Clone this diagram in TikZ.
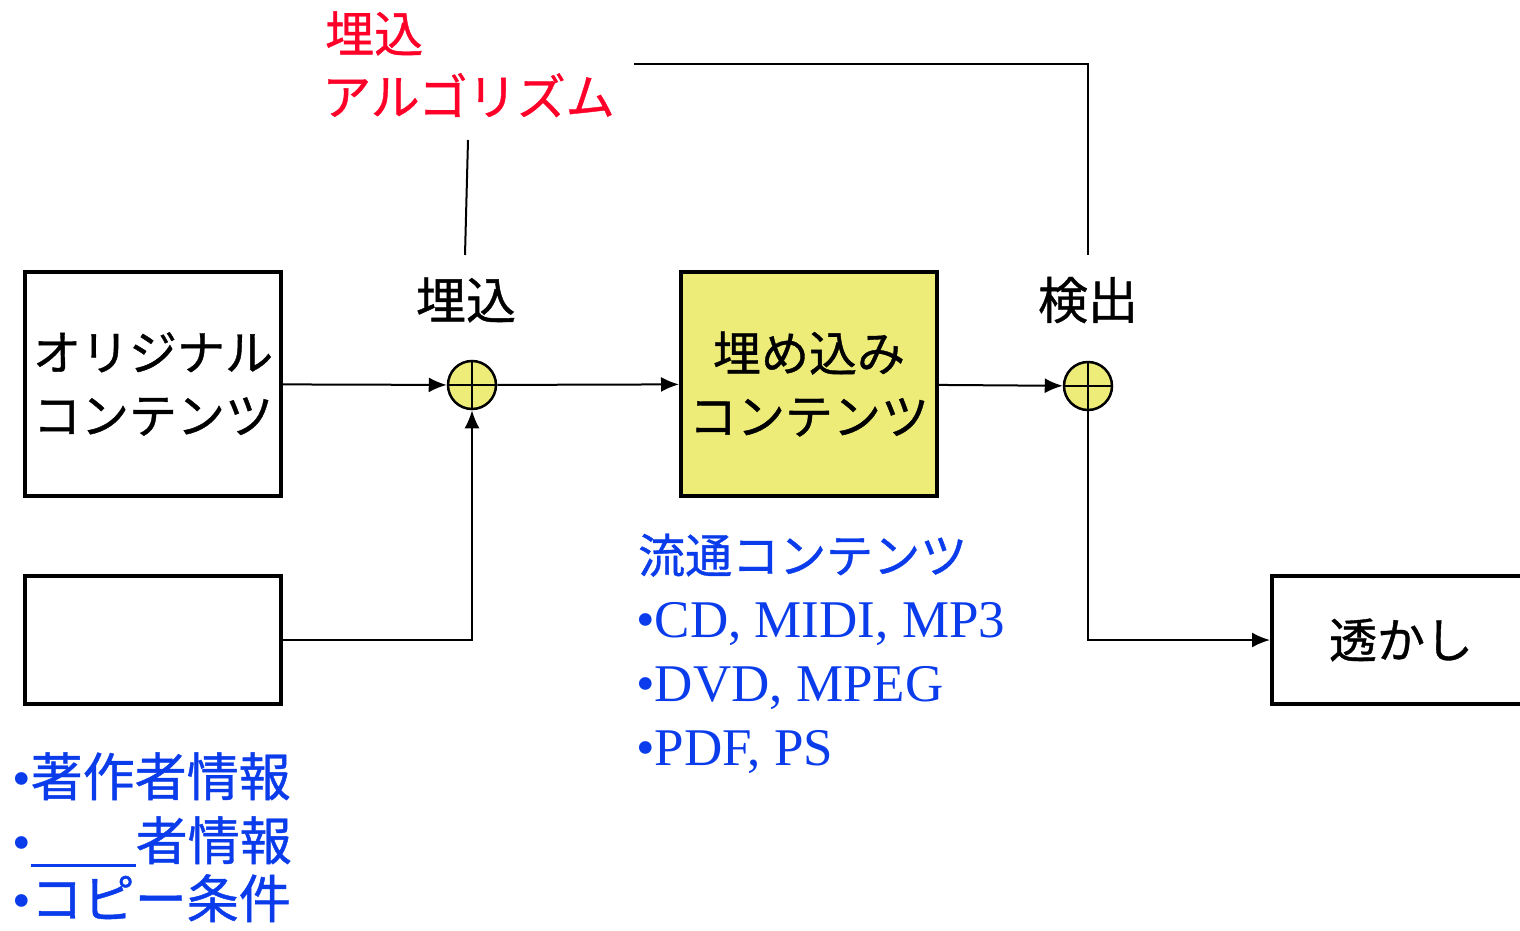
\documentclass[tikz,border=0pt]{standalone}
\usepackage{fontspec}
\setmainfont{Liberation Serif}
\newfontfamily\jp[FakeBold=0.8]{Noto Sans CJK JP}
\usetikzlibrary{arrows.meta}
\definecolor{txtblue}{RGB}{10,60,235}
\definecolor{txtred}{RGB}{255,0,40}
\definecolor{boxyellow}{RGB}{238,236,120}
\tikzset{
  box/.style={draw,line width=4pt,minimum width=256pt,inner sep=0pt,align=center,
    font=\jp\fontsize{48}{63}\selectfont},
  sumnode/.style={circle,draw,line width=2.5pt,fill=boxyellow,minimum size=48pt,inner sep=0pt,
    path picture={\draw[line width=2.2pt] (path picture bounding box.north) -- (path picture bounding box.south)
      (path picture bounding box.west) -- (path picture bounding box.east);}},
  conn/.style={line width=2pt,-{Latex[length=18pt,width=15pt]}},
  plain/.style={line width=2pt},
  jplbl/.style={font=\jp\fontsize{50}{63}\selectfont,inner sep=0pt},
  redjp/.style={font=\jp\fontsize{49}{63}\selectfont,text=txtred,inner sep=0pt,anchor=base west},
  bluejp/.style={font=\jp\fontsize{47}{63}\selectfont,text=txtblue,inner sep=0pt,anchor=base west},
  bluejpb/.style={font=\jp\fontsize{52}{64}\selectfont,text=txtblue,inner sep=0pt,anchor=base west},
  bluelat/.style={font=\fontsize{53}{64}\selectfont,text=txtblue,inner sep=0pt,anchor=base west},
}
\newcommand{\blt}{{\fontspec{Liberation Serif}\fontsize{53}{64}\selectfont •}}
\begin{document}
\begin{tikzpicture}[x=1pt,y=-1pt]
\useasboundingbox (0,0) rectangle (1520,931);
\node[box,minimum height=224pt] (orig) at (153,384) {オリジナル\\コンテンツ};
\node[box,minimum height=224pt,fill=boxyellow] (emb) at (809,384) {埋め込み\\コンテンツ};
\node[box,minimum height=128pt] (blank) at (153,640) {};
\node[box,minimum height=128pt,minimum width=258pt] (wm) at (1401,640) {透かし};
\node[sumnode] (c1) at (472,385) {};
\node[sumnode] (c2) at (1088,386) {};
\node[jplbl] (l1) at (466,300) {埋込};
\node[jplbl] (l2) at (1088,300) {検出};
\node[redjp] (r1) at (325,52) {埋込};
\node[redjp] (r2) at (322,115) {アルゴリズム};
\draw[conn] (orig) -- (c1);
\draw[conn] (c1) -- (emb);
\draw[conn] (blank.east) -| (c1.south);
\draw[conn] (emb) -- (c2);
\draw[conn] (c2.south) |- (wm.west);
\coordinate (a1) at (468,140);
\coordinate (a2) at (465,255);
\coordinate (d1) at (634,64);
\coordinate (d2) at (1088,255);
\draw[plain] (a1) -- (a2);
\draw[plain] (d1) -| (d2);
% distribution contents
\node[bluejp] (t0) at (638,573) {流通コンテンツ};
\node[bluelat] (t1) at (636,637) {•CD, MIDI, MP3};
\node[bluelat] (t2) at (636,701) {•DVD, MPEG};
\node[bluelat] (t3) at (636,765) {•PDF, PS};
% info list
\node[bluejpb] (b1) at (12,796) {\blt 著作者情報};
\node[bluejpb] (b2) at (12,860) {\blt\rule[-7pt]{105pt}{3pt}者情報};
\node[bluejpb] (b3) at (12,918) {\blt コピー条件};
\end{tikzpicture}
\end{document}
